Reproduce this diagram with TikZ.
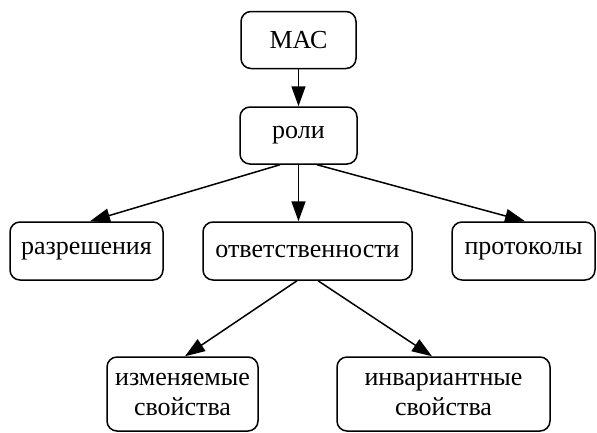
\documentclass[tikz,border=0pt]{standalone}
\usepackage{fontspec}
\setmainfont{Liberation Serif}
\usetikzlibrary{arrows.meta}
\newcommand\kastenf{\fontsize{26}{30}\selectfont}

\begin{document}
\begin{tikzpicture}[x=1pt,y=-1pt]
\useasboundingbox (0,0) rectangle (597,432);
\tikzset{kasten/.style={draw,rounded corners=10pt,line width=1.5pt,inner sep=0,
    minimum height=57pt,font=\kastenf,align=center},
  pfeil/.style={line width=1.5pt,-{Triangle[length=20pt,width=14pt]}}}

% ---- Knoten: oben МАС und роли, darunter drei Zweige, unten zwei Arten von Eigenschaften
\node[kasten,minimum width=115pt] (mac) at (298.5,40) {МАС};
\node[kasten,minimum width=117pt] (roli) at (298.5,135.5) {роли};
\node[kasten,minimum width=153pt,minimum height=58pt] (razr) at (86.5,251) {разрешения};
\node[kasten,minimum width=209pt,minimum height=58pt] (otv) at (307.5,251) {ответственности};
\node[kasten,minimum width=143pt,minimum height=58pt] (prot) at (523.5,251) {протоколы};
\node[kasten,minimum width=151pt,minimum height=74pt] (izm) at (182.5,394)
  {изменяемые\\свойства};
\node[kasten,minimum width=213pt,minimum height=74pt] (inv) at (443.5,394)
  {инвариантные\\свойства};

% ---- Pfeile
\draw[pfeil] (mac) -- (roli);
\draw[pfeil] ([xshift=-18.5pt]roli.south) -- ([xshift=3.5pt]razr.north);
\draw[pfeil] (roli.south) -- (roli.south |- otv.north);
\draw[pfeil] ([xshift=18.5pt]roli.south) -- ([xshift=1.5pt]prot.north);
\draw[pfeil] ([xshift=-10.5pt]otv.south) -- ([xshift=2.5pt]izm.north);
\draw[pfeil] ([xshift=10.5pt]otv.south) -- ([xshift=-11.5pt]inv.north);
\end{tikzpicture}
\end{document}
